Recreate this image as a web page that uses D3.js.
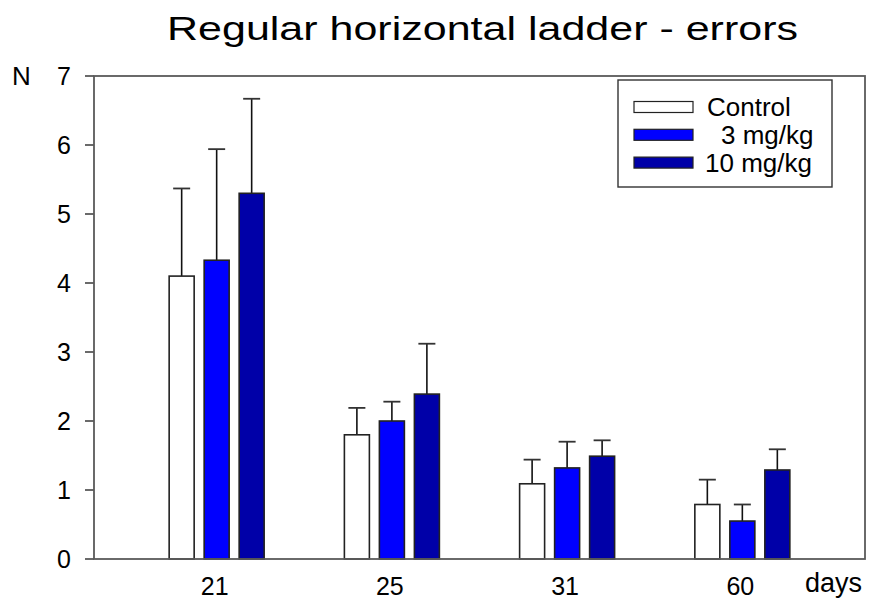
<!DOCTYPE html>
<html>
<head>
<meta charset="utf-8">
<script src="https://cdn.jsdelivr.net/npm/d3@7"></script>
<style>
  html, body { margin: 0; padding: 0; background: #fff; }
  svg { display: block; font-family: "Liberation Sans", Arial, sans-serif; }
</style>
</head>
<body>
<svg id="chart" width="870" height="600"></svg>
<script>
/* ---------- data ---------- */
const DAYS    = ['21', '25', '31', '60'];
const SERIES  = ['Control', '3 mg/kg', '10 mg/kg'];
const MEANS   = [
  [4.10, 1.80, 1.09, 0.79],   // Control
  [4.33, 2.00, 1.32, 0.55],   // 3 mg/kg
  [5.30, 2.39, 1.49, 1.29],   // 10 mg/kg
];
const UPPER   = [
  [5.37, 2.19, 1.44, 1.15],
  [5.94, 2.28, 1.70, 0.79],
  [6.67, 3.12, 1.72, 1.59],
];
const Y_TICKS = [0, 1, 2, 3, 4, 5, 6, 7];

const FILLS = { 'Control': '#ffffff', '3 mg/kg': '#0000ff', '10 mg/kg': '#0000a8' };

/* ---------- scales ---------- */
const svg = d3.select('#chart');
const plotL = 94, plotR = 865, plotT = 76, plotB = 559;

const x = d3.scaleLinear().domain([0.3, 4.7]).range([plotL, plotR]);
const inner = d3.scaleBand().domain(SERIES).range([-47.5, 47.5])
  .paddingInner(2 / 7).paddingOuter(0);
const y = d3.scaleLinear().domain([0, 7]).range([plotB, plotT]);

/* ---------- title ---------- */
svg.append('text')
  .attr('x', 167).attr('y', 40)
  .attr('font-size', 33).attr('fill', '#000')
  .attr('textLength', 631).attr('lengthAdjust', 'spacingAndGlyphs')
  .text('Regular horizontal ladder - errors');

/* ---------- bars ---------- */
SERIES.forEach((s, si) => {
  const g = svg.append('g');
  DAYS.forEach((d, di) => {
    const cx = x(di + 1) + inner(s);
    const v = MEANS[si][di], hi = UPPER[si][di];
    const mid = cx + inner.bandwidth() / 2;
    // error bar (upper only)
    g.append('line')
      .attr('x1', mid).attr('x2', mid)
      .attr('y1', y(v)).attr('y2', y(hi))
      .attr('stroke', '#111').attr('stroke-width', 1.6);
    g.append('line')
      .attr('x1', mid - 8.5).attr('x2', mid + 8.5)
      .attr('y1', y(hi)).attr('y2', y(hi))
      .attr('stroke', '#333').attr('stroke-width', 1.8);
    g.append('rect')
      .attr('x', cx).attr('y', y(v))
      .attr('width', inner.bandwidth()).attr('height', y(0) - y(v))
      .attr('fill', FILLS[s]).attr('stroke', '#222').attr('stroke-width', 1.6);
  });
});

/* ---------- frame & axes ---------- */
svg.append('rect')
  .attr('x', plotL).attr('y', plotT)
  .attr('width', plotR - plotL).attr('height', plotB - plotT)
  .attr('fill', 'none').attr('stroke', '#5a5a5a').attr('stroke-width', 1.8);

const yAxis = svg.append('g');
Y_TICKS.forEach(t => {
  yAxis.append('line')
    .attr('x1', plotL - 9).attr('x2', plotL)
    .attr('y1', y(t)).attr('y2', y(t))
    .attr('stroke', '#5a5a5a').attr('stroke-width', 1.8);
  yAxis.append('text')
    .attr('x', 71).attr('y', y(t)).attr('dy', '0.36em')
    .attr('text-anchor', 'end').attr('font-size', 25).attr('fill', '#000')
    .text(t);
});

svg.append('text')
  .attr('x', 12).attr('y', 85)
  .attr('font-size', 26).attr('fill', '#000').text('N');

DAYS.forEach((d, di) => {
  svg.append('text')
    .attr('x', x(di + 1) - 2).attr('y', 594.5)
    .attr('text-anchor', 'middle').attr('font-size', 25).attr('fill', '#000')
    .text(d);
});

svg.append('text')
  .attr('x', 805).attr('y', 592)
  .attr('font-size', 27).attr('fill', '#000').text('days');

/* ---------- legend ---------- */
const lg = svg.append('g');
lg.append('rect')
  .attr('x', 618).attr('y', 80).attr('width', 214).attr('height', 107)
  .attr('fill', '#fff').attr('stroke', '#333').attr('stroke-width', 1.4);

const LEG_TEXT_X = [707, 721, 705];
SERIES.forEach((s, i) => {
  const cy = 107 + i * 27.8;
  lg.append('rect')
    .attr('x', 634).attr('y', cy - 5.5).attr('width', 59).attr('height', 11)
    .attr('fill', FILLS[s]).attr('stroke', '#222').attr('stroke-width', 1.2);
  lg.append('text')
    .attr('x', LEG_TEXT_X[i]).attr('y', cy + 9)
    .attr('font-size', 26).attr('fill', '#000')
    .text(s);
});
</script>
</body>
</html>
